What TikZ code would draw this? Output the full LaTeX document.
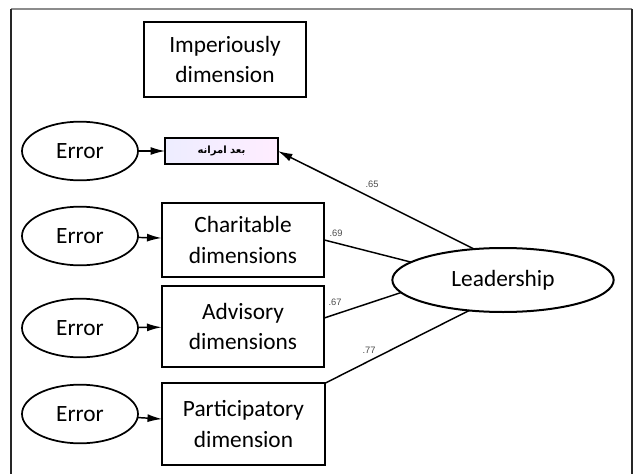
\documentclass[tikz,border=0pt]{standalone}
\usepackage{fontspec}
\setmainfont{Carlito}
\newfontfamily\arabicfont[Script=Arabic]{DejaVu Sans}
\newfontfamily\coeffont{Liberation Sans}
\TeXXeTstate=1
\usetikzlibrary{arrows.meta, shapes.geometric}

\tikzset{
  dimbox/.style={draw, line width=1.5pt, minimum width=122pt, inner sep=0pt, outer sep=0pt,
    align=center, font=\fontsize{17.5}{23}\selectfont},
  errnode/.style={draw, ellipse, line width=1.3pt, minimum width=87pt, minimum height=44pt,
    inner sep=0pt, outer sep=0pt, font=\fontsize{17.5}{20}\selectfont},
  errarrow/.style={-{Latex[length=11pt,width=6pt]}, line width=1.1pt},
  loadline/.style={line width=1.1pt},
  coef/.style={inner sep=0pt, text=black!70, font=\coeffont\fontsize{7}{8}\selectfont}
}

\begin{document}
\begin{tikzpicture}[x=0.75pt,y=0.75pt,yscale=-1,xscale=1]
\useasboundingbox (0,0) rectangle (634,474);

%Frame
\draw [line width=1.5pt, color=black!45] (11,9) -- (632,9) ;
\draw [line width=0.9pt, color=black!85] (11,9) -- (11,474) ;
\draw [line width=0.9pt, color=black!85] (632,9) -- (632,474) ;

%Shape: Rectangle [dimensions]
\node [dimbox, minimum height=56pt] (imp) at (225,59.5) {Imperiously\\dimension};
\node [draw, line width=1.3pt, minimum width=84.5pt, minimum height=20pt, inner sep=0pt, outer sep=0pt,
  left color=blue!7!white, right color=magenta!7!white] (imparabic) at (221.5,151)
  {\arabicfont\fontsize{7.5}{8}\selectfont\bfseries\beginR بعد امرانه\endR};
\node [dimbox, minimum height=56pt] (char) at (243,240) {Charitable\\dimensions};
\node [dimbox, minimum height=61pt] (adv) at (243,326.5) {Advisory\\dimensions};
\node [dimbox, minimum height=61pt] (part) at (243.5,424) {Participatory\\dimension};

%Shape: Ellipse [errors]
\node [errnode] (err1) at (80,151) {Error};
\node [errnode] (err2) at (80,236) {Error};
\node [errnode] (err3) at (80,328) {Error};
\node [errnode] (err4) at (80,414) {Error};

%Shape: Ellipse [latent]
\node [draw, ellipse, line width=1.5pt, minimum width=166pt, minimum height=48pt, inner sep=0pt, outer sep=0pt,
  font=\fontsize{17.5}{20}\selectfont] (lead) at (503,280) {Leadership};

%Arrows: error terms
\draw [errarrow] (err1) -- (imparabic) ;
\draw [errarrow] (err2) -- (char) ;
\draw [errarrow] (err3) -- (adv) ;
\draw [errarrow] (err4) -- (part) ;

%Straight Lines: loadings
\draw [loadline, -{Latex[length=11pt,width=6pt]}] (lead.133) -- (imparabic.east) ;
\draw [loadline] (lead.169) -- (char.east) ;
\draw [loadline] (lead.187) -- (adv.6) ;
\draw [loadline] (lead.222) -- (part.north east) ;

% Text Node
\node [coef] (c65) at (372,184) {.65};
\node [coef] (c69) at (336,233) {.69};
\node [coef] (c67) at (335,302) {.67};
\node [coef] (c77) at (369,350) {.77};

\end{tikzpicture}
\end{document}
